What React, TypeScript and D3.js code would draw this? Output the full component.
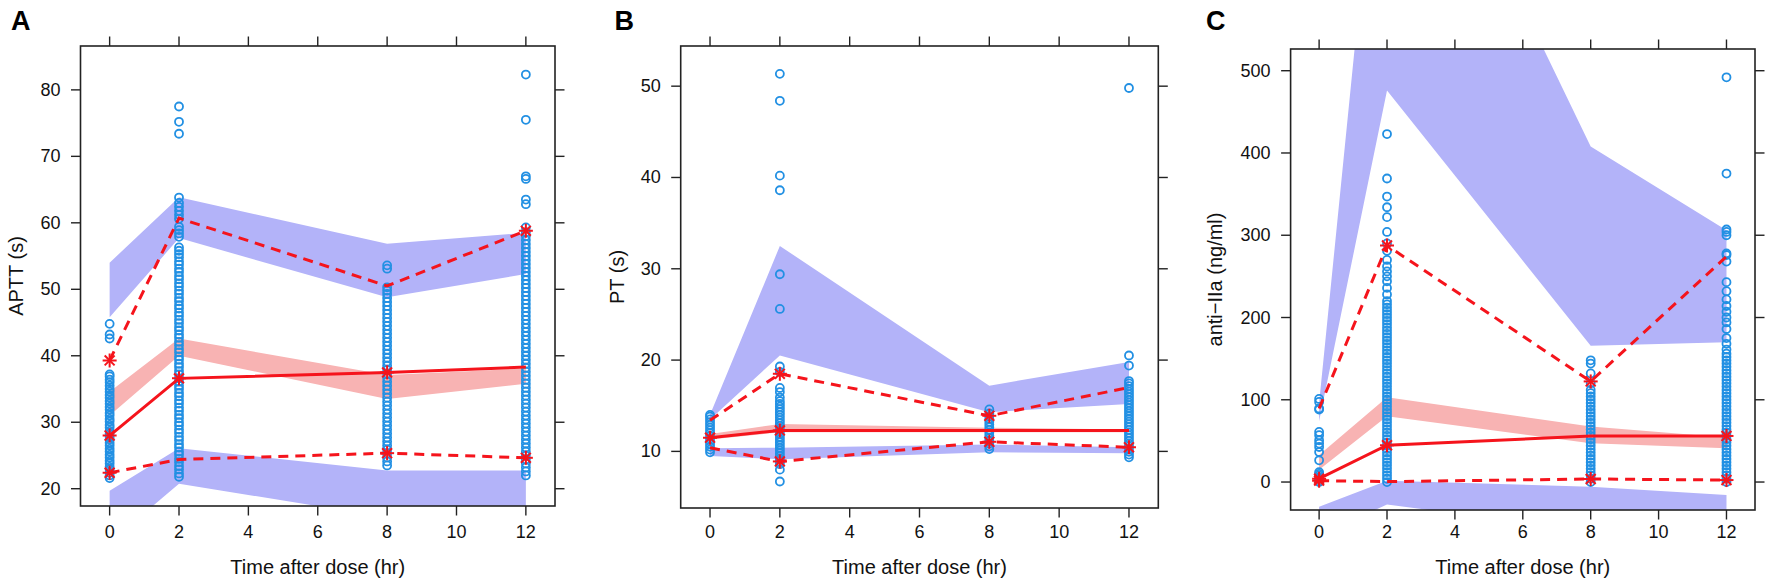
import * as d3 from "d3";

// ---- shared axes ----
const times = [0, 2, 8, 12];
const xTicks = [0, 2, 4, 6, 8, 10, 12];

// ---- A: APTT ----
const apttYTicks = [20, 30, 40, 50, 60, 70, 80];
const apttObs0 = [21.6, 22.0, 22.4, 22.9, 23.3, 23.8, 24.2, 24.7, 25.1, 25.6, 26.0, 26.5, 26.9, 27.4, 27.8, 28.3, 28.7, 29.2, 29.6, 30.1, 30.5, 31.0, 31.4, 31.9, 32.3, 32.8, 33.2, 33.7, 34.1, 34.6, 35.0, 35.5, 36.0, 36.4, 36.9, 37.2, 42.6, 43.2, 44.8];
const apttObs2 = [21.8, 22.3, 22.9, 23.4, 24.0, 24.5, 25.1, 25.6, 26.2, 26.7, 27.3, 27.8, 28.4, 28.9, 29.5, 30.0, 30.6, 31.1, 31.7, 32.2, 32.8, 33.3, 33.9, 34.4, 35.0, 35.5, 36.1, 36.6, 37.2, 37.7, 38.3, 38.8, 39.4, 39.9, 40.5, 41.0, 41.6, 42.1, 42.7, 43.2, 43.8, 44.3, 44.9, 45.4, 46.0, 46.5, 47.1, 47.6, 48.2, 48.7, 49.3, 49.8, 50.4, 50.9, 51.5, 52.0, 52.6, 53.1, 53.7, 54.2, 54.8, 55.3, 55.8, 56.3, 57.9, 58.4, 58.9, 59.4, 60.6, 61.2, 61.8, 62.4, 63.0, 63.8, 73.4, 75.2, 77.5];
const apttObs8 = [23.5, 24.1, 24.7, 25.3, 25.9, 26.5, 27.1, 27.7, 28.3, 28.9, 29.5, 30.1, 30.7, 31.3, 31.9, 32.5, 33.1, 33.7, 34.3, 34.9, 35.5, 36.1, 36.7, 37.3, 37.9, 38.5, 39.1, 39.7, 40.3, 40.9, 41.5, 42.1, 42.7, 43.3, 43.9, 44.5, 45.1, 45.7, 46.3, 46.9, 47.5, 48.1, 48.7, 49.3, 49.8, 50.3, 53.1, 53.6];
const apttObs12 = [22.0, 22.6, 23.2, 23.8, 24.4, 25.0, 25.6, 26.2, 26.8, 27.4, 28.0, 28.6, 29.2, 29.8, 30.4, 31.0, 31.6, 32.2, 32.8, 33.4, 34.0, 34.6, 35.2, 35.8, 36.4, 37.0, 37.6, 38.2, 38.8, 39.4, 40.0, 40.6, 41.2, 41.8, 42.4, 43.0, 43.6, 44.2, 44.8, 45.4, 46.0, 46.6, 47.2, 47.8, 48.4, 49.0, 49.6, 50.2, 50.8, 51.4, 52.0, 52.6, 53.2, 53.8, 54.4, 55.0, 55.6, 56.2, 56.8, 57.4, 58.0, 58.6, 59.3, 62.8, 63.5, 66.6, 67.0, 75.5, 82.3];
const apttP05 = [22.4, 24.4, 25.35, 24.65];
const apttP50 = [28.0, 36.6, 37.5, 38.3];
const apttP95 = [39.3, 60.7, 50.5, 58.8];
const apttStar05 = [true, false, true, true];
const apttStar50 = [true, true, true, false];
const apttStar95 = [true, false, false, true];
const apttPI05Lo = [11.9, 20.75, 15.7, 15.5];
const apttPI05Hi = [19.7, 26.1, 22.75, 22.75];
const apttPI50Lo = [31.0, 40.0, 33.5, 35.8];
const apttPI50Hi = [34.6, 42.6, 37.1, 38.1];
const apttPI95Lo = [45.8, 57.7, 48.8, 52.3];
const apttPI95Hi = [54.0, 63.85, 56.85, 58.5];

// ---- B: PT ----
const ptYTicks = [10, 20, 30, 40, 50];
const ptObs0 = [9.9, 10.2, 10.5, 10.8, 11.1, 11.4, 11.7, 12.0, 12.3, 12.6, 12.9, 13.2, 13.5, 13.8, 14.0];
const ptObs2 = [6.7, 8.0, 8.6, 8.9, 9.2, 9.5, 9.8, 10.1, 10.4, 10.7, 11.0, 11.3, 11.6, 11.9, 12.2, 12.5, 12.8, 13.1, 13.4, 13.7, 14.0, 14.3, 14.6, 14.9, 15.2, 15.5, 15.9, 16.5, 16.95, 18.7, 19.3, 25.6, 29.4, 38.6, 40.2, 48.4, 51.35];
const ptObs8 = [10.25, 10.55, 10.85, 11.15, 11.45, 11.75, 12.05, 12.35, 12.65, 12.95, 13.25, 13.55, 13.85, 14.15, 14.6];
const ptObs12 = [9.35, 9.65, 9.95, 10.25, 10.55, 10.85, 11.15, 11.45, 11.75, 12.05, 12.35, 12.65, 12.95, 13.25, 13.55, 13.85, 14.15, 14.45, 14.75, 15.05, 15.35, 15.65, 15.95, 16.25, 16.55, 16.85, 17.15, 17.45, 17.7, 19.4, 20.5, 49.8];
const ptP05 = [10.4, 8.9, 11.05, 10.45];
const ptP50 = [11.5, 12.3, 12.3, 12.3];
const ptP95 = [13.4, 18.5, 13.9, 17.0];
const ptStar05 = [false, true, true, true];
const ptStar50 = [true, true, false, false];
const ptStar95 = [false, true, true, false];
const ptPI05Lo = [9.5, 9.15, 9.9, 9.8];
const ptPI05Hi = [10.35, 10.4, 10.75, 10.45];
const ptPI50Lo = [11.3, 12.1, 12.1, 12.1];
const ptPI50Hi = [11.9, 13.0, 12.6, 12.4];
const ptPI95Lo = [13.5, 20.5, 14.3, 15.2];
const ptPI95Hi = [14.0, 32.5, 17.2, 19.8];

// ---- C: anti-IIa ----
const iiaYTicks = [0, 100, 200, 300, 400, 500];
const iiaObs0 = [0, 2, 4, 6, 8, 10, 12, 26.4, 36.5, 42.6, 46.8, 50.8, 56.9, 60.9, 88.2, 89.4, 97.4, 101];
const iiaObs2 = [0, 4, 8, 12, 16, 20, 24, 28, 32, 36, 40, 44, 48, 52, 56, 60, 64, 68, 72, 76, 80, 84, 88, 92, 96, 100, 104, 108, 112, 116, 120, 124, 128, 132, 136, 140, 144, 148, 152, 156, 160, 164, 168, 172, 176, 180, 184, 188, 192, 196, 200, 204, 208, 212, 216, 220, 228, 236, 244, 250, 256, 262, 270, 281, 290, 304, 322, 334, 347, 369, 423];
const iiaObs8 = [0, 4, 8, 12, 16, 20, 24, 28, 32, 36, 40, 44, 48, 52, 56, 60, 64, 68, 72, 76, 80, 84, 88, 92, 96, 100, 104, 108, 112, 120, 132, 144, 148];
const iiaObs12 = [0, 4, 8, 12, 16, 20, 24, 28, 32, 36, 40, 44, 48, 52, 56, 60, 64, 68, 72, 76, 80, 84, 88, 92, 96, 100, 104, 108, 112, 116, 120, 124, 128, 132, 136, 140, 144, 148, 152, 156, 161, 168, 175, 186, 194, 200, 207, 214, 222, 232, 243, 268, 276, 278, 300, 304, 307, 375, 492];
const iiaP05 = [1.7, 0.5, 3.7, 2.4];
const iiaP50 = [4.1, 44.7, 56, 56];
const iiaP95 = [89.4, 287.5, 122.3, 274];
const iiaStar05 = [true, false, true, true];
const iiaStar50 = [true, true, false, true];
const iiaStar95 = [false, true, true, false];
const iiaPI05Lo = [-65.6, -27.2, -60, -70];
const iiaPI05Hi = [-30, 1.7, -5.6, -15.8];
const iiaPI50Lo = [15, 80, 47, 41];
const iiaPI50Hi = [33, 103, 67.5, 54];
const iiaPI95Lo = [74, 476, 165.7, 169.8];
const iiaPI95Hi = [96, 920, 408, 306];

const BLUE_PT = "#2290e3";
const BAND_BLUE = "#b3b3f9";
const BAND_RED = "#f8b3b3";
const RED = "#f5141c";
const FONT = "'Liberation Sans', Arial, Helvetica, sans-serif";

interface PanelSpec {
    id: string;
    letter: string;
    letterX: number;
    yTitle: string;
    yTitleX: number;
    box: { l: number; r: number; t: number; b: number };
    yDomain: [number, number];
    yTicks: number[];
    obs: number[][];
    p05: number[]; p50: number[]; p95: number[];
    s05: boolean[]; s50: boolean[]; s95: boolean[];
    pi05: [number[], number[]];
    pi50: [number[], number[]];
    pi95: [number[], number[]];
}

const panels: PanelSpec[] = [
    {
        id: "A", letter: "A", letterX: 11, yTitle: "APTT (s)", yTitleX: 15.5,
        box: { l: 80.5, r: 555, t: 46, b: 506 },
        yDomain: [17.4, 86.6], yTicks: apttYTicks,
        obs: [apttObs0, apttObs2, apttObs8, apttObs12],
        p05: apttP05, p50: apttP50, p95: apttP95,
        s05: apttStar05, s50: apttStar50, s95: apttStar95,
        pi05: [apttPI05Lo, apttPI05Hi], pi50: [apttPI50Lo, apttPI50Hi], pi95: [apttPI95Lo, apttPI95Hi],
    },
    {
        id: "B", letter: "B", letterX: 614.5, yTitle: "PT (s)", yTitleX: 617,
        box: { l: 680.7, r: 1158.3, t: 46, b: 508 },
        yDomain: [3.8, 54.4], yTicks: ptYTicks,
        obs: [ptObs0, ptObs2, ptObs8, ptObs12],
        p05: ptP05, p50: ptP50, p95: ptP95,
        s05: ptStar05, s50: ptStar50, s95: ptStar95,
        pi05: [ptPI05Lo, ptPI05Hi], pi50: [ptPI50Lo, ptPI50Hi], pi95: [ptPI95Lo, ptPI95Hi],
    },
    {
        id: "C", letter: "C", letterX: 1206, yTitle: "anti\u2212IIa (ng/ml)", yTitleX: 1215,
        box: { l: 1290.6, r: 1755, t: 49, b: 510 },
        yDomain: [-34, 526.4], yTicks: iiaYTicks,
        obs: [iiaObs0, iiaObs2, iiaObs8, iiaObs12],
        p05: iiaP05, p50: iiaP50, p95: iiaP95,
        s05: iiaStar05, s50: iiaStar50, s95: iiaStar95,
        pi05: [iiaPI05Lo, iiaPI05Hi], pi50: [iiaPI50Lo, iiaPI50Hi], pi95: [iiaPI95Lo, iiaPI95Hi],
    },
];

const TICK = 9.5;

// pch = 8 style asterisk
const Asterisk = ({ cx, cy }: { cx: number; cy: number }) => {
    const r = 7;
    const d = r * Math.SQRT1_2;
    return (
        <g stroke={RED} strokeWidth={2}>
            <line x1={cx - r} y1={cy} x2={cx + r} y2={cy} />
            <line x1={cx} y1={cy - r} x2={cx} y2={cy + r} />
            <line x1={cx - d} y1={cy - d} x2={cx + d} y2={cy + d} />
            <line x1={cx - d} y1={cy + d} x2={cx + d} y2={cy - d} />
        </g>
    );
};

const Panel = ({ p }: { p: PanelSpec }) => {
    const { l, r, t, b } = p.box;
    const x = d3.scaleLinear().domain([-0.84, 12.84]).range([l, r]);
    const y = d3.scaleLinear().domain(p.yDomain).range([b, t]);

    const band = ([lo, hi]: [number[], number[]]) =>
        d3.area<number>()
            .x((tt) => x(tt))
            .y0((_, i) => y(lo[i]))
            .y1((_, i) => y(hi[i]))(times) ?? "";
    const line = (vals: number[]) =>
        d3.line<number>().x((tt) => x(tt)).y((_, i) => y(vals[i]))(times) ?? "";

    const clipId = `clip-${p.id}`;
    const midX = (l + r) / 2;
    const midY = (t + b) / 2;

    return (
        <g>
            <defs>
                <clipPath id={clipId}>
                    <rect x={l} y={t} width={r - l} height={b - t} />
                </clipPath>
            </defs>
            <g clipPath={`url(#${clipId})`}>
                <path d={band(p.pi95)} fill={BAND_BLUE} />
                <path d={band(p.pi05)} fill={BAND_BLUE} />
                <path d={band(p.pi50)} fill={BAND_RED} />
                {p.obs.map((col, i) =>
                    col.map((v, j) => (
                        <circle key={`${i}-${j}`} cx={x(times[i])} cy={y(v)} r={4}
                            fill="none" stroke={BLUE_PT} strokeWidth={1.8} />
                    ))
                )}
                <path d={line(p.p50)} fill="none" stroke={RED} strokeWidth={3} />
                <path d={line(p.p05)} fill="none" stroke={RED} strokeWidth={3} strokeDasharray="10 7" />
                <path d={line(p.p95)} fill="none" stroke={RED} strokeWidth={3} strokeDasharray="10 7" />
                {times.map((tt, i) => (
                    <g key={tt}>
                        {p.s05[i] && <Asterisk cx={x(tt)} cy={y(p.p05[i])} />}
                        {p.s50[i] && <Asterisk cx={x(tt)} cy={y(p.p50[i])} />}
                        {p.s95[i] && <Asterisk cx={x(tt)} cy={y(p.p95[i])} />}
                    </g>
                ))}
            </g>
            <rect x={l} y={t} width={r - l} height={b - t} fill="none" stroke="#222" strokeWidth={1.6} />
            {xTicks.map((tk) => (
                <g key={tk} stroke="#222" strokeWidth={1.4}>
                    <line x1={x(tk)} x2={x(tk)} y1={b} y2={b + TICK} />
                    <line x1={x(tk)} x2={x(tk)} y1={t} y2={t - TICK} />
                </g>
            ))}
            {p.yTicks.map((tk) => (
                <g key={tk} stroke="#222" strokeWidth={1.4}>
                    <line x1={l} x2={l - TICK} y1={y(tk)} y2={y(tk)} />
                    <line x1={r} x2={r + TICK} y1={y(tk)} y2={y(tk)} />
                </g>
            ))}
            <g fontFamily={FONT} fontSize={18} fill="#111">
                {xTicks.map((tk) => (
                    <text key={tk} x={x(tk)} y={532} textAnchor="middle" dominantBaseline="central">{tk}</text>
                ))}
                {p.yTicks.map((tk) => (
                    <text key={tk} x={l - 20} y={y(tk)} textAnchor="end" dominantBaseline="central">{tk}</text>
                ))}
            </g>
            <text x={midX} y={567} fontFamily={FONT} fontSize={20} textAnchor="middle"
                dominantBaseline="central" fill="#111">Time after dose (hr)</text>
            <text transform={`translate(${p.yTitleX},${midY}) rotate(-90)`} fontFamily={FONT} fontSize={20}
                textAnchor="middle" dominantBaseline="central" fill="#111">{p.yTitle}</text>
            <text x={p.letterX} y={29.5} fontFamily={FONT} fontSize={27} fontWeight="bold" fill="#000">{p.letter}</text>
        </g>
    );
};

export default function App() {
    return (
        <div style={{ position: "absolute", left: 0, top: 0, width: 1772, height: 586, background: "#fff" }}>
            <svg width={1772} height={586} viewBox="0 0 1772 586" style={{ display: "block" }}>
                <rect width={1772} height={586} fill="#fff" />
                {panels.map((p) => <Panel key={p.id} p={p} />)}
            </svg>
        </div>
    );
}
